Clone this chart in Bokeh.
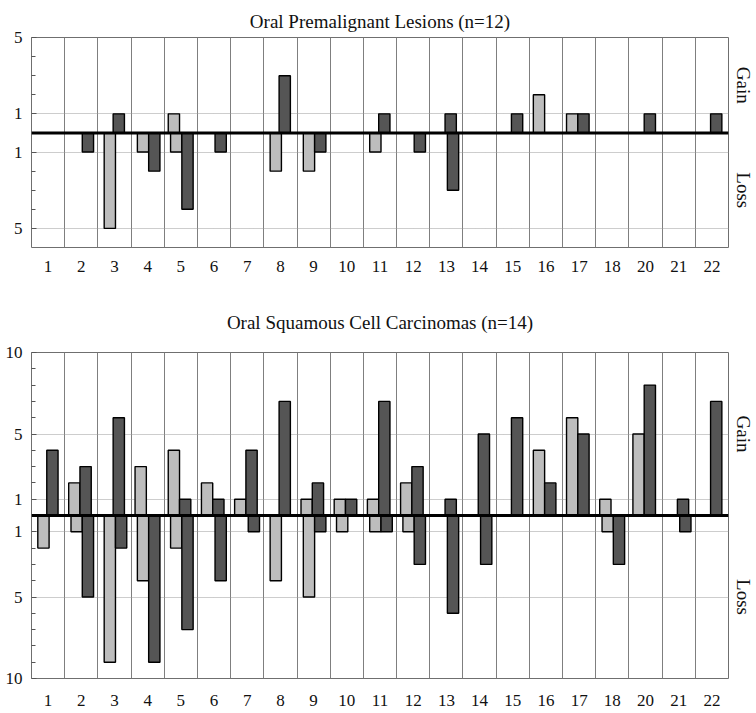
import numpy as np
from bokeh.plotting import figure
from bokeh.models import FixedTicker, LinearAxis, Span, Range1d
from bokeh.layouts import column
from bokeh.embed import file_html
from bokeh.resources import INLINE

# ---------------- data ----------------
chromosomes = ["1", "2", "3", "4", "5", "6", "7", "8", "9", "10", "11",
               "12", "13", "14", "15", "16", "17", "18", "20", "21", "22"]

top_title = "Oral Premalignant Lesions (n=12)"
top_light_gain = [0, 0, 0, 0, 1, 0, 0, 0, 0, 0, 0, 0, 0, 0, 0, 2, 1, 0, 0, 0, 0]
top_dark_gain = [0, 0, 1, 0, 0, 0, 0, 3, 0, 0, 1, 0, 1, 0, 1, 0, 1, 0, 1, 0, 1]
top_light_loss = [0, 0, 5, 1, 1, 0, 0, 2, 2, 0, 1, 0, 0, 0, 0, 0, 0, 0, 0, 0, 0]
top_dark_loss = [0, 1, 0, 2, 4, 1, 0, 0, 1, 0, 0, 1, 3, 0, 0, 0, 0, 0, 0, 0, 0]
top_gain_max = 5
top_loss_max = 6
top_tick_values = [1, 5]

low_title = "Oral Squamous Cell Carcinomas (n=14)"
low_light_gain = [0, 2, 0, 3, 4, 2, 1, 0, 1, 1, 1, 2, 0, 0, 0, 4, 6, 1, 5, 0, 0]
low_dark_gain = [4, 3, 6, 0, 1, 1, 4, 7, 2, 1, 7, 3, 1, 5, 6, 2, 5, 0, 8, 1, 7]
low_light_loss = [2, 1, 9, 4, 2, 0, 0, 4, 5, 1, 1, 1, 0, 0, 0, 0, 0, 1, 0, 0, 0]
low_dark_loss = [0, 5, 2, 9, 7, 4, 1, 0, 1, 0, 1, 3, 6, 3, 0, 0, 0, 3, 0, 1, 0]
low_gain_max = 10
low_loss_max = 10
low_tick_values = [1, 5, 10]

gain_label = "Gain"
loss_label = "Loss"

# ---------------- style ----------------
LIGHT = "#bdbdbd"
DARK = "#555555"
FONT = "Liberation Serif"
BAR_W = 0.34


def add_bars(p, xs, vals, offset, sign, color):
    idx = [i for i, v in enumerate(vals) if v > 0]
    x = [xs[i] + offset for i in idx]
    v = [sign * vals[i] for i in idx]
    if sign > 0:
        top, bottom = v, [0] * len(v)
    else:
        top, bottom = [0] * len(v), v
    p.vbar(x=x, width=BAR_W, top=top, bottom=bottom, fill_color=color,
           line_color="black", line_width=1.4)


def make_panel(title, lg, dg, ll, dl, gain_max, loss_max, tick_values,
               height, border_top, border_bottom, title_standoff, xlabel_standoff):
    n = len(chromosomes)
    xs = list(range(1, n + 1))
    p = figure(width=756, height=height,
               x_range=Range1d(0.5, n + 0.5),
               y_range=Range1d(-loss_max, gain_max),
               output_backend="svg", toolbar_location=None,
               min_border_left=31, min_border_right=28,
               min_border_top=border_top, min_border_bottom=border_bottom,
               title=title)
    p.title.text_font = FONT
    p.title.text_font_size = "19px"
    p.title.text_font_style = "normal"
    p.title.align = "center"
    p.title.standoff = title_standoff
    p.title.text_color = "#111111"

    p.outline_line_color = "#6f6f6f"
    p.outline_line_width = 1
    p.background_fill_color = "white"
    p.border_fill_color = "white"

    # grids: vertical at category boundaries, horizontal dotted at ticks
    p.xgrid.ticker = FixedTicker(ticks=[x - 0.5 for x in xs] + [n + 0.5])
    p.xgrid.grid_line_color = "#7f7f7f"
    p.xgrid.grid_line_width = 1
    majors = [v for v in tick_values if v <= gain_max] + [-v for v in tick_values if v <= loss_max]
    p.ygrid.ticker = FixedTicker(ticks=majors)
    p.ygrid.grid_line_color = "#9a9a9a"
    p.ygrid.grid_line_dash = "1 1"
    p.ygrid.grid_line_width = 1

    # bars
    add_bars(p, xs, lg, -0.21, 1, LIGHT)
    add_bars(p, xs, dg, 0.13, 1, DARK)
    add_bars(p, xs, ll, -0.14, -1, LIGHT)
    add_bars(p, xs, dl, 0.20, -1, DARK)

    p.add_layout(Span(location=0, dimension="width", line_color="black", line_width=3))

    # x axis
    xa = p.xaxis[0]
    xa.ticker = FixedTicker(ticks=xs)
    xa.major_label_overrides = {x: c for x, c in zip(xs, chromosomes)}
    xa.axis_line_color = None
    xa.major_tick_line_color = None
    xa.minor_tick_line_color = None
    xa.major_tick_out = 0
    xa.major_tick_in = 0
    xa.minor_tick_out = 0
    xa.major_label_text_font = FONT
    xa.major_label_text_font_size = "17px"
    xa.major_label_text_color = "#111111"
    xa.major_label_standoff = xlabel_standoff

    # y axis
    minors = [v for v in range(1, gain_max) if v not in tick_values] + \
             [-v for v in range(1, loss_max) if v not in tick_values]
    ya = p.yaxis[0]
    ya.ticker = FixedTicker(ticks=majors, minor_ticks=minors)
    ya.major_label_overrides = {v: str(abs(v)) for v in majors}
    ya.axis_line_color = None
    ya.major_tick_in = 5
    ya.major_tick_out = 0
    ya.minor_tick_in = 4
    ya.minor_tick_out = 0
    ya.major_tick_line_color = "#555555"
    ya.minor_tick_line_color = "#555555"
    ya.major_label_text_font = FONT
    ya.major_label_text_font_size = "17px"
    ya.major_label_text_color = "#111111"
    ya.major_label_standoff = 9

    # right side Gain / Loss labels
    ra = LinearAxis(ticker=FixedTicker(ticks=[gain_max / 2, -loss_max / 2]))
    ra.major_label_overrides = {gain_max / 2: gain_label, -loss_max / 2: loss_label}
    ra.major_label_orientation = "vertical"
    ra.axis_line_color = None
    ra.major_tick_line_color = None
    ra.minor_tick_line_color = None
    ra.major_tick_out = 0
    ra.major_tick_in = 0
    ra.minor_tick_out = 0
    ra.minor_tick_in = 0
    ra.major_label_text_font = FONT
    ra.major_label_text_font_size = "19px"
    ra.major_label_text_color = "#111111"
    ra.major_label_standoff = 4
    p.add_layout(ra, "right")
    return p


top = make_panel(top_title, top_light_gain, top_dark_gain, top_light_loss, top_dark_loss,
                 top_gain_max, top_loss_max, top_tick_values,
                 height=288, border_top=37, border_bottom=41, title_standoff=12,
                 xlabel_standoff=13)
low = make_panel(low_title, low_light_gain, low_dark_gain, low_light_loss, low_dark_loss,
                 low_gain_max, low_loss_max, low_tick_values,
                 height=425, border_top=64, border_bottom=35, title_standoff=40,
                 xlabel_standoff=16)

layout = column(top, low, spacing=0)
open("out.html", "w").write(file_html(layout, INLINE))
